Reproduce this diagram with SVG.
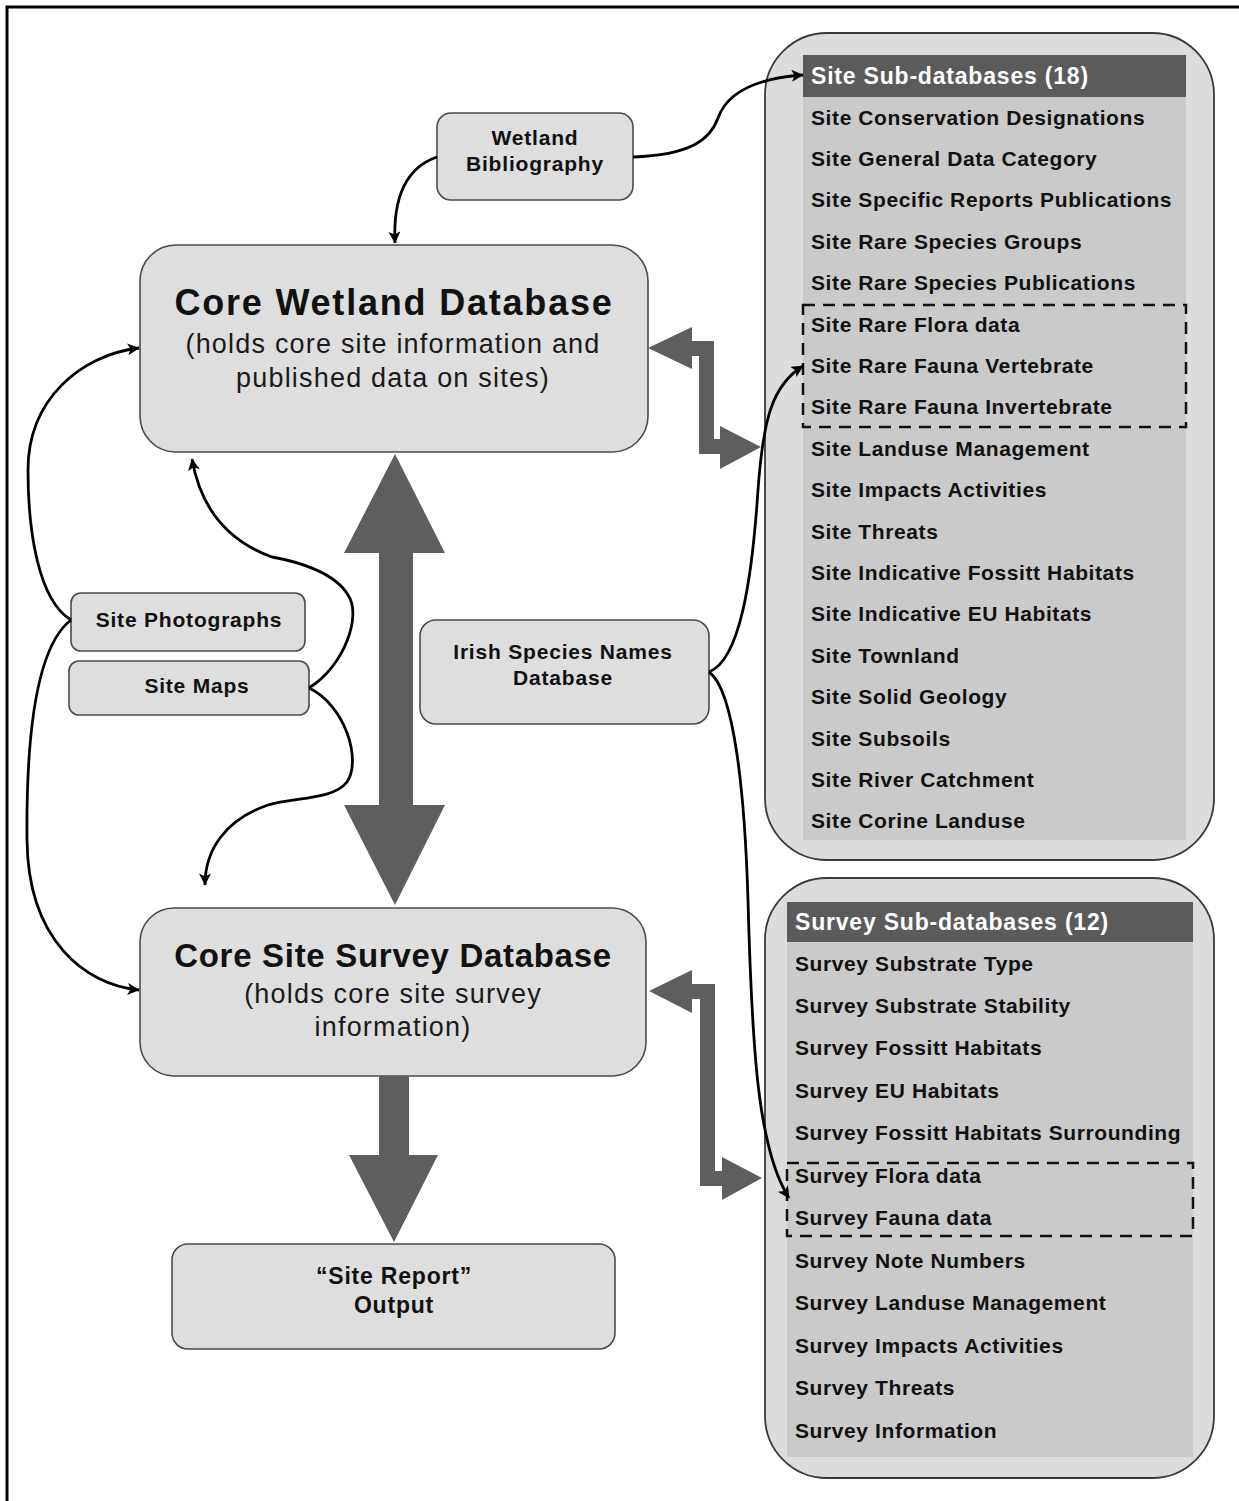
<svg xmlns="http://www.w3.org/2000/svg" width="1239" height="1501" viewBox="0 0 1239 1501">
<style>
.box{fill:#dedede;stroke:#4a4a4a;stroke-width:1.6}
.panel{fill:#dcdcdc;stroke:#3a3a3a;stroke-width:1.8}
.list{fill:#cacaca}
.hdr{fill:#5b5b5b}
.big{fill:#5e5e5e}
.dash{fill:none;stroke:#111;stroke-width:2.5;stroke-dasharray:12 8}
.con{fill:none;stroke:#000;stroke-width:2.8}
text{font-family:"Liberation Sans",Arial,sans-serif;fill:#111}
.sm{font-size:21px;font-weight:bold;letter-spacing:0.8px;text-anchor:middle}
.ttl{font-weight:bold;text-anchor:middle}
.sub{font-size:27px;letter-spacing:1.2px;text-anchor:middle;fill:#1a1a1a}
.item{font-size:21px;font-weight:bold;letter-spacing:0.6px}
.htxt{font-size:23px;font-weight:bold;letter-spacing:0.8px;fill:#fff}
</style>
<defs>
<marker id="ah" viewBox="0 0 10 10" refX="9.5" refY="5" markerWidth="15" markerHeight="12" markerUnits="userSpaceOnUse" orient="auto">
<path d="M0,0 L10,5 L0,10 L2.5,5 Z" fill="#000"/>
</marker>
</defs>
<rect width="1239" height="1501" fill="#fff"/>
<path d="M7,1501 V7 H1239" fill="none" stroke="#000" stroke-width="3"/>

<g id="site-panel">
<rect class="panel" x="765" y="33" width="449" height="827" rx="62"/>
<rect class="list" x="803" y="97" width="383" height="743"/>
<rect class="hdr" x="803" y="55" width="383" height="42"/>
<text class="htxt" x="811" y="84">Site Sub-databases (18)</text>
<text class="item" x="811" y="124.5">Site Conservation Designations</text>
<text class="item" x="811" y="166">Site General Data Category</text>
<text class="item" x="811" y="207.3">Site Specific Reports Publications</text>
<text class="item" x="811" y="248.7">Site Rare Species Groups</text>
<text class="item" x="811" y="290">Site Rare Species Publications</text>
<text class="item" x="811" y="331.5">Site Rare Flora data</text>
<text class="item" x="811" y="372.9">Site Rare Fauna Vertebrate</text>
<text class="item" x="811" y="414.3">Site Rare Fauna Invertebrate</text>
<text class="item" x="811" y="455.7">Site Landuse Management</text>
<text class="item" x="811" y="497.1">Site Impacts Activities</text>
<text class="item" x="811" y="538.5">Site Threats</text>
<text class="item" x="811" y="579.9">Site Indicative Fossitt Habitats</text>
<text class="item" x="811" y="621.3">Site Indicative EU Habitats</text>
<text class="item" x="811" y="662.7">Site Townland</text>
<text class="item" x="811" y="704.1">Site Solid Geology</text>
<text class="item" x="811" y="745.5">Site Subsoils</text>
<text class="item" x="811" y="786.9">Site River Catchment</text>
<text class="item" x="811" y="828.3">Site Corine Landuse</text>
<rect class="dash" x="803" y="305" width="383" height="122"/>
</g>

<g id="survey-panel">
<rect class="panel" x="765" y="878" width="449" height="600" rx="62"/>
<rect class="list" x="787" y="942" width="406" height="515"/>
<rect class="hdr" x="787" y="902" width="406" height="40"/>
<text class="htxt" x="795" y="930">Survey Sub-databases (12)</text>
<text class="item" x="795" y="970.5">Survey Substrate Type</text>
<text class="item" x="795" y="1013">Survey Substrate Stability</text>
<text class="item" x="795" y="1055.4">Survey Fossitt Habitats</text>
<text class="item" x="795" y="1097.8">Survey EU Habitats</text>
<text class="item" x="795" y="1140.3">Survey Fossitt Habitats Surrounding</text>
<text class="item" x="795" y="1182.8">Survey Flora data</text>
<text class="item" x="795" y="1225.2">Survey Fauna data</text>
<text class="item" x="795" y="1267.7">Survey Note Numbers</text>
<text class="item" x="795" y="1310.1">Survey Landuse Management</text>
<text class="item" x="795" y="1352.6">Survey Impacts Activities</text>
<text class="item" x="795" y="1395">Survey Threats</text>
<text class="item" x="795" y="1437.5">Survey Information</text>
<rect class="dash" x="787" y="1163" width="406" height="73"/>
</g>

<g id="wetland-bibliography">
<rect class="box" x="437" y="113" width="196" height="87" rx="14"/>
<text class="sm" x="535" y="145">Wetland</text>
<text class="sm" x="535" y="171">Bibliography</text>
</g>

<g id="core-wetland-database">
<rect class="box" x="140" y="245" width="508" height="207" rx="36"/>
<text class="ttl" x="394" y="315" style="font-size:36px;letter-spacing:1.8px">Core Wetland Database</text>
<text class="sub" x="393" y="353">(holds core site information and</text>
<text class="sub" x="393" y="387">published data on sites)</text>
</g>

<g id="site-photographs">
<rect class="box" x="71" y="593" width="234" height="58" rx="10"/>
<text class="sm" x="189" y="627">Site Photographs</text>
</g>

<g id="site-maps">
<rect class="box" x="69" y="661" width="240" height="54" rx="10"/>
<text class="sm" x="197" y="693">Site Maps</text>
</g>

<g id="irish-species-names-database">
<rect class="box" x="420" y="620" width="289" height="104" rx="16"/>
<text class="sm" x="563" y="659">Irish Species Names</text>
<text class="sm" x="563" y="685">Database</text>
</g>

<g id="core-site-survey-database">
<rect class="box" x="140" y="908" width="506" height="168" rx="34"/>
<text class="ttl" x="393" y="967" style="font-size:33px;letter-spacing:0.7px">Core Site Survey Database</text>
<text class="sub" x="393" y="1003">(holds core site survey</text>
<text class="sub" x="393" y="1036">information)</text>
</g>

<g id="site-report-output">
<rect class="box" x="172" y="1244" width="443" height="105" rx="16"/>
<text class="sm" x="394" y="1284" style="font-size:23px">“Site Report”</text>
<text class="sm" x="394" y="1313" style="font-size:23px">Output</text>
</g>

<g id="connectors">
<polygon class="big" points="395,454 445,553 413,553 413,805 445,805 395,905 344,805 379,805 379,553 344,553"/>
<polygon class="big" points="379,1076 409,1076 409,1155 438,1155 394,1242 349,1155 379,1155"/>
<polygon class="big" points="648,348 692,327 692,341 714,341 714,439 720,439 720,426 761,447 720,469 720,454 699,454 699,356 692,356 692,369"/>
<polygon class="big" points="649,991 692,970 692,984 715,984 715,1171 722,1171 722,1157 762,1178 722,1200 722,1186 700,1186 700,999 692,999 692,1013"/>
<path class="con" marker-end="url(#ah)" d="M437,157 C405,168 393,200 395,243"/>
<path class="con" marker-end="url(#ah)" d="M633,157 C690,155 710,140 718,118 C728,90 760,78 803,75"/>
<path class="con" marker-end="url(#ah)" d="M71,620 C38,600 28,530 28,470 C28,400 80,355 139,348"/>
<path class="con" marker-end="url(#ah)" d="M71,620 C38,645 26,730 27,840 C28,940 85,985 139,990"/>
<path class="con" marker-end="url(#ah)" d="M309,688 C345,665 362,615 348,595 C335,573 300,562 272,557 C225,540 200,505 192,459"/>
<path class="con" marker-end="url(#ah)" d="M309,688 C345,705 362,760 347,782 C333,800 295,797 268,805 C225,820 205,850 205,885"/>
<path class="con" marker-end="url(#ah)" d="M709,672 C740,660 752,580 758,490 C763,420 772,385 803,366"/>
<path class="con" marker-end="url(#ah)" d="M709,672 C735,690 745,800 748,900 C752,1050 758,1150 789,1198"/>
</g>
</svg>
